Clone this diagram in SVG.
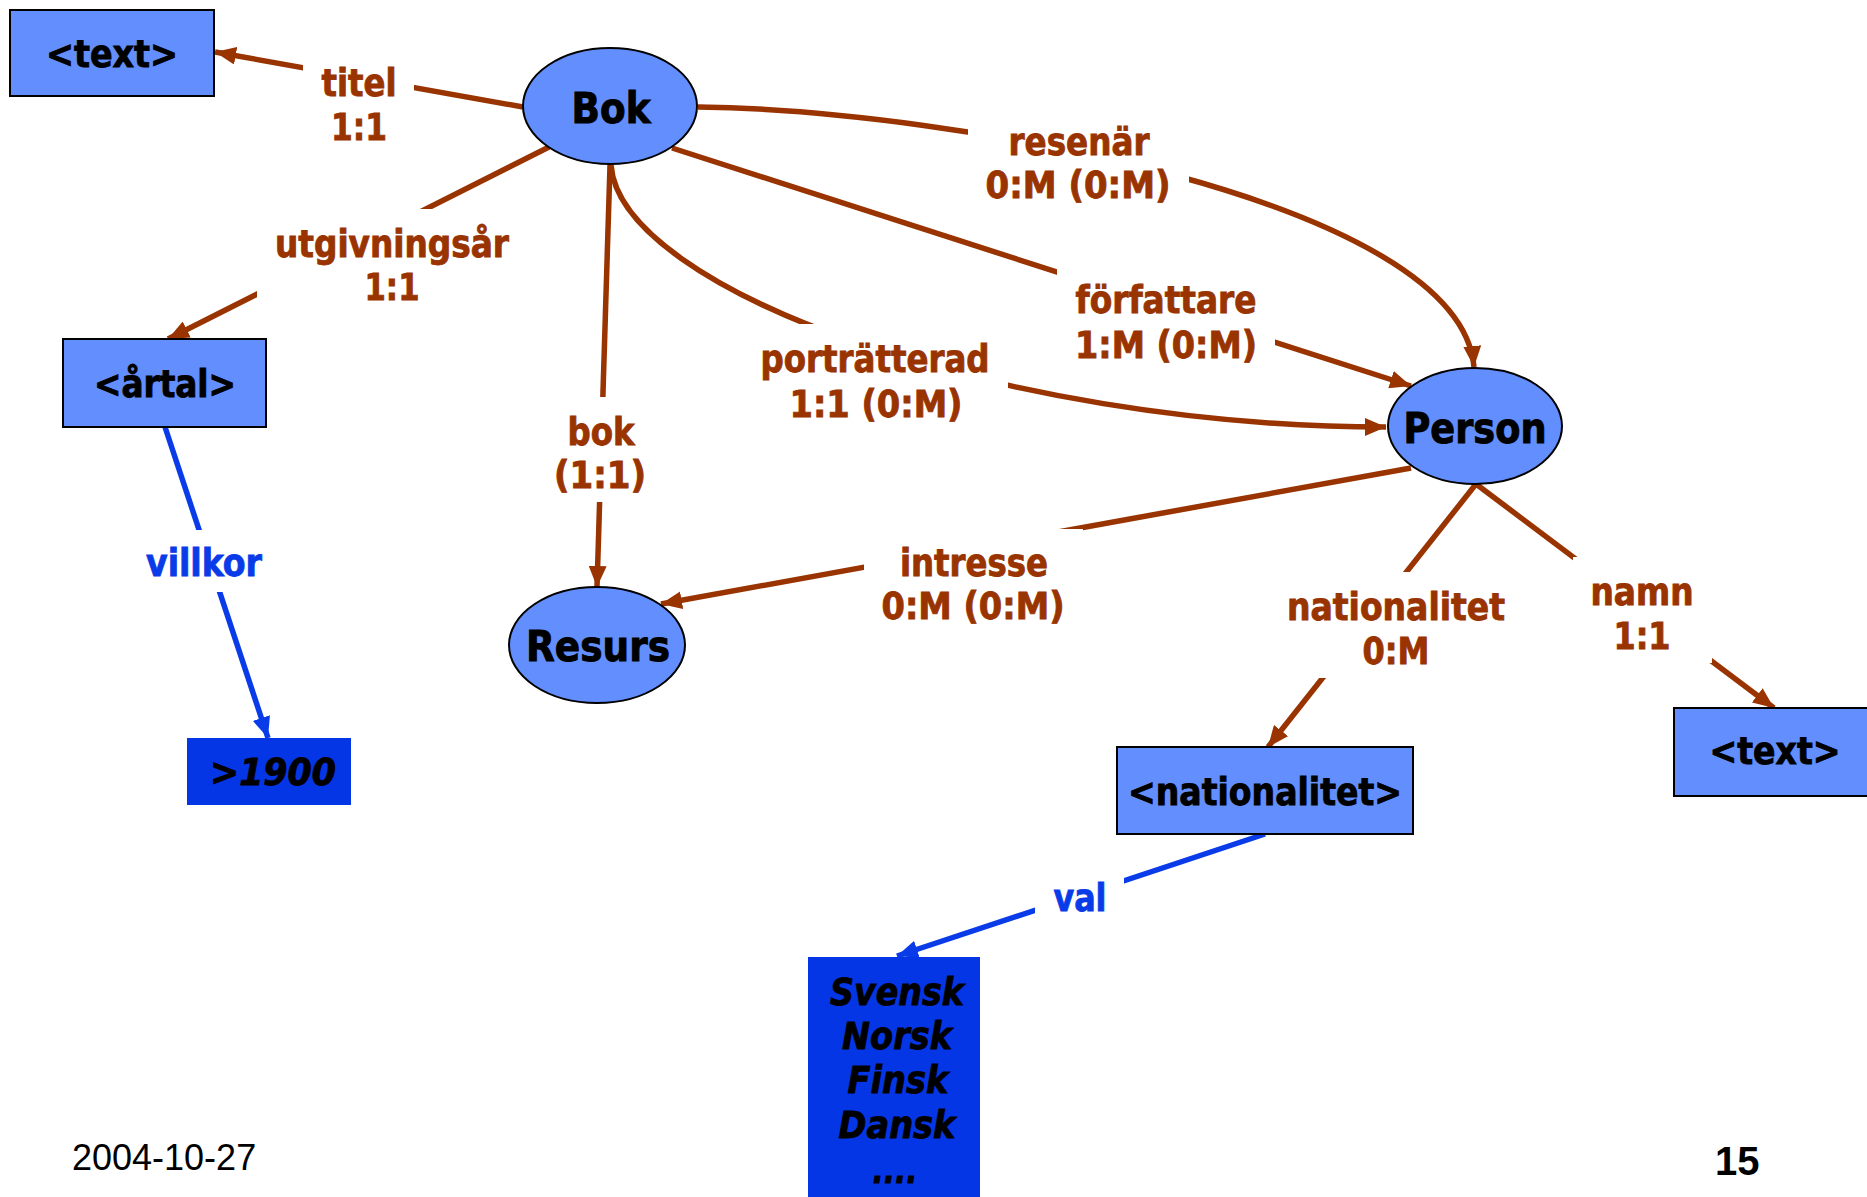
<svg xmlns="http://www.w3.org/2000/svg" width="1867" height="1197" viewBox="0 0 1867 1197">
<style>
  .bg{fill:#ffffff}
  .lbl{font-family:"DejaVu Sans Condensed","DejaVu Sans",sans-serif;font-stretch:condensed;font-weight:bold;font-size:37px;fill:#993300;stroke:#993300;stroke-width:0.8;text-anchor:middle}
  .blbl{font-family:"DejaVu Sans Condensed","DejaVu Sans",sans-serif;font-stretch:condensed;font-weight:bold;font-size:37px;fill:#0A3BE8;stroke:#0A3BE8;stroke-width:0.8;text-anchor:middle}
  .box{fill:#628FFD;stroke:#000000;stroke-width:2}
  .ell{fill:#628FFD;stroke:#000000;stroke-width:2}
  .val{fill:#0536E6;stroke:none}
  .bt{font-family:"DejaVu Sans Condensed","DejaVu Sans",sans-serif;font-stretch:condensed;font-weight:bold;font-size:37px;fill:#000000;stroke:#000000;stroke-width:0.8;text-anchor:middle}
  .et{font-family:"DejaVu Sans Condensed","DejaVu Sans",sans-serif;font-stretch:condensed;font-weight:bold;font-size:43px;fill:#000000;stroke:#000000;stroke-width:0.9;text-anchor:middle}
  .it{font-family:"DejaVu Sans Condensed","DejaVu Sans",sans-serif;font-stretch:condensed;font-weight:bold;font-style:italic;font-size:37px;fill:#000000;stroke:#000000;stroke-width:0.8;text-anchor:middle}
  .br{fill:none;stroke:#993300;stroke-width:5.5}
  .bl{fill:none;stroke:#0A3BE8;stroke-width:5.5}
</style>
<defs>
  <marker id="ab" markerUnits="userSpaceOnUse" markerWidth="22" markerHeight="18" viewBox="0 0 22 18" refX="21" refY="9" orient="auto">
    <path d="M0,0 L21,9 L0,18 Z" fill="#993300"/>
  </marker>
  <marker id="au" markerUnits="userSpaceOnUse" markerWidth="22" markerHeight="18" viewBox="0 0 22 18" refX="21" refY="9" orient="auto">
    <path d="M0,0 L21,9 L0,18 Z" fill="#0A3BE8"/>
  </marker>
</defs>
<rect x="0" y="0" width="1867" height="1197" fill="#ffffff"/>

<g id="connectors">
  <path id="e-titel" class="br" d="M523,107 L215,52" marker-end="url(#ab)"/>
  <path id="e-utgivningsar" class="br" d="M549,147 L168,339" marker-end="url(#ab)"/>
  <path id="e-bok" class="br" d="M610,165 L597,587" marker-end="url(#ab)"/>
  <path id="e-portratterad" class="br" d="M611,165 C620,290 1000,427 1386,427" marker-end="url(#ab)"/>
  <path id="e-resenar" class="br" d="M698,107 C950,110 1460,200 1474,367" marker-end="url(#ab)"/>
  <path id="e-forfattare" class="br" d="M672,148 L1411,386" marker-end="url(#ab)"/>
  <path id="e-intresse" class="br" d="M1411,468 L661,604" marker-end="url(#ab)"/>
  <path id="e-nationalitet" class="br" d="M1476,484 L1268,747" marker-end="url(#ab)"/>
  <path id="e-namn" class="br" d="M1476,484 L1774,708" marker-end="url(#ab)"/>
  <path id="e-villkor" class="bl" d="M165,427 L268,738" marker-end="url(#au)"/>
  <path id="e-val" class="bl" d="M1265,834 L897,956" marker-end="url(#au)"/>

  <g id="connector-labels">
    <rect class="bg" x="303" y="48" width="111" height="106"/>
    <text class="lbl" x="359" y="96" textLength="75" lengthAdjust="spacingAndGlyphs">titel</text>
    <text class="lbl" x="359" y="140" textLength="56" lengthAdjust="spacingAndGlyphs">1:1</text>

    <rect class="bg" x="257" y="209" width="271" height="105"/>
    <text class="lbl" x="392" y="257" textLength="234" lengthAdjust="spacingAndGlyphs">utgivningsår</text>
    <text class="lbl" x="392" y="300" textLength="55" lengthAdjust="spacingAndGlyphs">1:1</text>

    <rect class="bg" x="536" y="397" width="128" height="105"/>
    <text class="lbl" x="601" y="445" textLength="67" lengthAdjust="spacingAndGlyphs">bok</text>
    <text class="lbl" x="600" y="488" textLength="92" lengthAdjust="spacingAndGlyphs">(1:1)</text>

    <rect class="bg" x="743" y="324" width="265" height="107"/>
    <text class="lbl" x="875" y="372" textLength="229" lengthAdjust="spacingAndGlyphs">porträtterad</text>
    <text class="lbl" x="876" y="417" textLength="173" lengthAdjust="spacingAndGlyphs">1:1 (0:M)</text>

    <rect class="bg" x="968" y="107" width="221" height="105"/>
    <text class="lbl" x="1079" y="155" textLength="141" lengthAdjust="spacingAndGlyphs">resenär</text>
    <text class="lbl" x="1078" y="198" textLength="185" lengthAdjust="spacingAndGlyphs">0:M (0:M)</text>

    <rect class="bg" x="1057" y="265" width="218" height="107"/>
    <text class="lbl" x="1166" y="313" textLength="181" lengthAdjust="spacingAndGlyphs">författare</text>
    <text class="lbl" x="1166" y="358" textLength="182" lengthAdjust="spacingAndGlyphs">1:M (0:M)</text>

    <rect class="bg" x="864" y="529" width="219" height="104"/>
    <text class="lbl" x="974" y="576" textLength="148" lengthAdjust="spacingAndGlyphs">intresse</text>
    <text class="lbl" x="973" y="619" textLength="183" lengthAdjust="spacingAndGlyphs">0:M (0:M)</text>

    <rect class="bg" x="1269" y="572" width="254" height="106"/>
    <text class="lbl" x="1396" y="620" textLength="218" lengthAdjust="spacingAndGlyphs">nationalitet</text>
    <text class="lbl" x="1396" y="664" textLength="67" lengthAdjust="spacingAndGlyphs">0:M</text>

    <rect class="bg" x="1573" y="557" width="139" height="106"/>
    <text class="lbl" x="1642" y="605" textLength="103" lengthAdjust="spacingAndGlyphs">namn</text>
    <text class="lbl" x="1642" y="649" textLength="57" lengthAdjust="spacingAndGlyphs">1:1</text>

    <rect class="bg" x="128" y="530" width="152" height="62"/>
    <text class="blbl" x="204" y="576" textLength="116" lengthAdjust="spacingAndGlyphs">villkor</text>

    <rect class="bg" x="1035" y="863" width="89" height="62"/>
    <text class="blbl" x="1080" y="911" textLength="53" lengthAdjust="spacingAndGlyphs">val</text>
  </g>
</g>

<g id="node-text-left">
  <rect class="box" x="10" y="10" width="204" height="86"/>
  <text class="bt" x="112" y="67" textLength="132" lengthAdjust="spacingAndGlyphs">&lt;text&gt;</text>
</g>

<g id="node-bok">
  <ellipse class="ell" cx="610" cy="106" rx="87" ry="58"/>
  <text class="et" x="611" y="123" textLength="79" lengthAdjust="spacingAndGlyphs">Bok</text>
</g>

<g id="node-artal">
  <rect class="box" x="63" y="339" width="203" height="88"/>
  <text class="bt" x="165" y="397" textLength="142" lengthAdjust="spacingAndGlyphs">&lt;årtal&gt;</text>
</g>

<g id="node-1900">
  <rect class="val" x="187" y="738" width="164" height="67"/>
  <text class="it" x="273" y="785" textLength="126" lengthAdjust="spacingAndGlyphs">&gt;1900</text>
</g>

<g id="node-resurs">
  <ellipse class="ell" cx="597" cy="645" rx="88" ry="58"/>
  <text class="et" x="598" y="661" textLength="144" lengthAdjust="spacingAndGlyphs">Resurs</text>
</g>

<g id="node-person">
  <ellipse class="ell" cx="1475" cy="426" rx="87" ry="58"/>
  <text class="et" x="1475" y="443" textLength="143" lengthAdjust="spacingAndGlyphs">Person</text>
</g>

<g id="node-nationalitet">
  <rect class="box" x="1117" y="747" width="296" height="87"/>
  <text class="bt" x="1265" y="805" textLength="274" lengthAdjust="spacingAndGlyphs">&lt;nationalitet&gt;</text>
</g>

<g id="node-text-right">
  <rect class="box" x="1674" y="708" width="204" height="88"/>
  <text class="bt" x="1775" y="764" textLength="131" lengthAdjust="spacingAndGlyphs">&lt;text&gt;</text>
</g>

<g id="node-values">
  <rect class="val" x="808" y="957" width="172" height="245"/>
  <text class="it" x="897" y="1005" textLength="134" lengthAdjust="spacingAndGlyphs">Svensk</text>
  <text class="it" x="897" y="1049" textLength="110" lengthAdjust="spacingAndGlyphs">Norsk</text>
  <text class="it" x="898" y="1093" textLength="101" lengthAdjust="spacingAndGlyphs">Finsk</text>
  <text class="it" x="897" y="1138" textLength="117" lengthAdjust="spacingAndGlyphs">Dansk</text>
  <text class="it" x="895" y="1183" textLength="45" lengthAdjust="spacingAndGlyphs">....</text>
</g>

<g id="footer">
  <text x="72" y="1170" font-family="Liberation Sans, Arial, sans-serif" font-size="36" fill="#000000">2004-10-27</text>
  <text x="1715" y="1175" font-family="Liberation Sans, Arial, sans-serif" font-size="40" font-weight="bold" fill="#000000">15</text>
</g>
</svg>
